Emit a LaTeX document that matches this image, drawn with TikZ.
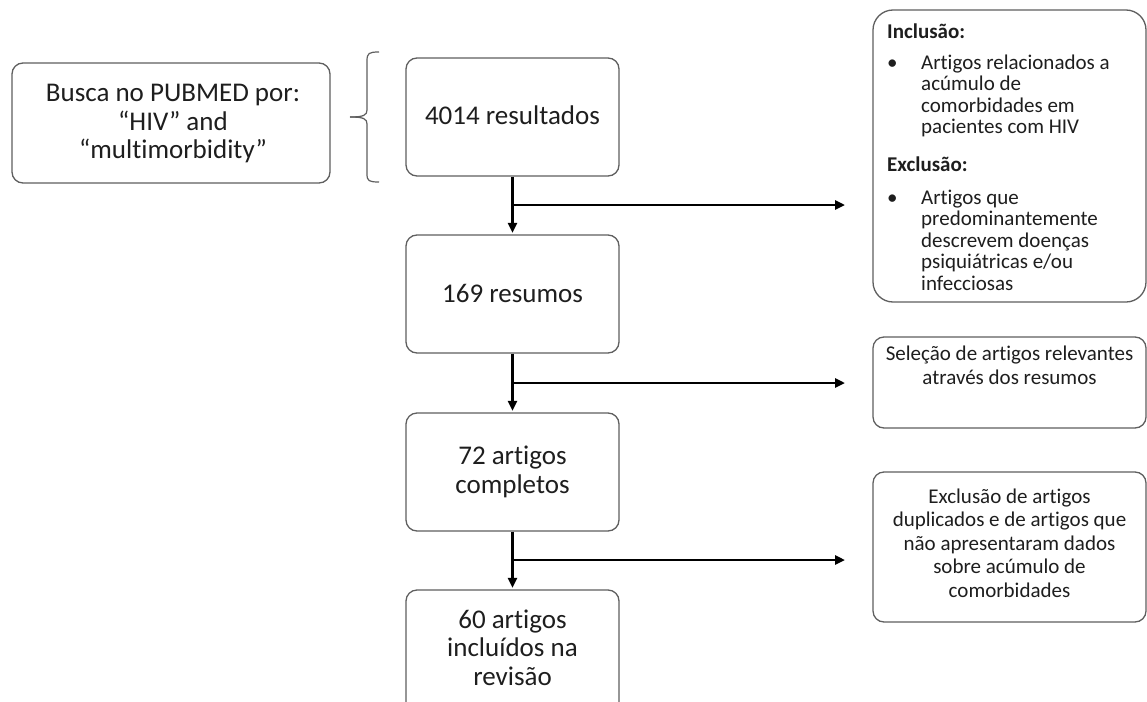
\documentclass[tikz,border=0pt]{standalone}
\usepackage{fontspec}
\setmainfont{Carlito}[Ligatures={NoCommon}]
\usetikzlibrary{arrows.meta}
\definecolor{boxgray}{RGB}{95,95,95}
\definecolor{textdark}{RGB}{30,30,30}
\begin{document}
\begin{tikzpicture}[x=1pt,y=-1pt,
  box/.style={draw=boxgray, line width=1.3pt, rounded corners=11pt, inner sep=0pt,
    text=textdark, rectangle},
  big/.style={font=\fontsize{27}{28.5}\selectfont, align=center, text=textdark, inner sep=0pt, anchor=base},
  small/.style={font=\fontsize{21}{23.5}\selectfont, align=center, text=textdark, inner sep=0pt, anchor=base},
  crit/.style={font=\fontsize{21}{21.5}\selectfont, align=left, text=textdark, inner sep=0pt, anchor=base west},
  crith/.style={crit, font=\fontsize{21}{21.5}\selectfont\bfseries},
  flow/.style={draw=black, line width=2.6pt, -{Triangle[length=10pt,width=9pt]}},
  brace/.style={draw=boxgray, line width=1.2pt},
]
\useasboundingbox (0,0) rectangle (1147,701);
\fill[white] (0,0) rectangle (1147,701);
\begin{scope}
\clip (0,0) rectangle (1147,701);

% left search box (base anchor = baseline of last line)
\node[box, minimum width=318pt, minimum height=120pt] (busca) at (171,123) {};
\node[big] (buscat) at (173,158.7) {Busca no PUBMED por:\\“HIV” and\\“multimorbidity”};

% brace
\coordinate (brtop) at (379,52);
\coordinate (brtip) at (350,117);
\coordinate (brbot) at (379,182);
\draw[brace] (brtop) .. controls (369,52) and (367,53) .. (367,61) -- (367,110)
  .. controls (367,115) and (364,117) .. (brtip);
\draw[brace] (brtip) .. controls (364,117) and (367,119) .. (367,124) -- (367,174)
  .. controls (367,181) and (369,182) .. (brbot);

% central flow boxes
\node[box, minimum width=213pt, minimum height=118pt] (res) at (512.5,117) {};
\node[big] (rest) at (512.5,124) {4014 resultados};
\node[box, minimum width=213pt, minimum height=118pt] (resu) at (512.5,294) {};
\node[big] (resut) at (512.5,302.5) {169 resumos};
\node[box, minimum width=213pt, minimum height=118pt] (comp) at (512.5,472) {};
\node[big] (compt) at (512.5,493.3) {72 artigos\\completos};
\node[box, minimum width=213pt, minimum height=130pt] (incl) at (512.5,655) {};
\node[big] (inclt) at (512.5,685) {60 artigos\\incluídos na\\revisão};

% right boxes
\node[box, rounded corners=20pt, minimum width=273pt, minimum height=292pt] (crit) at (1009.5,156) {};
\node[crith] (inch) at (887,39) {Inclusão:};
\node[crit] (incb) at (887,69.3) {•};
\node[crit] (inci) at (921,133.8) {Artigos relacionados a\\acúmulo de\\comorbidades em\\pacientes com HIV};
\node[crith] (exch) at (887,171) {Exclusão:};
\node[crit] (excb) at (887,204) {•};
\node[crit] (exci) at (921,290) {Artigos que\\predominantemente\\descrevem doenças\\psiquiátricas e/ou\\infecciosas};

\node[box, minimum width=273pt, minimum height=91pt] (sel) at (1009.5,382.5) {};
\node[small] (selt) at (1009.5,384) {Seleção de artigos relevantes\\através dos resumos};

\node[box, minimum width=273pt, minimum height=150pt] (exc) at (1009.5,547) {};
\node[small] (exct) at (1009.5,597) {Exclusão de artigos\\duplicados e de artigos que\\não apresentaram dados\\sobre acúmulo de\\comorbidades};

% connectors
\coordinate (j1) at (512.5,205);
\coordinate (a1) at (845,205);
\coordinate (j2) at (512.5,383);
\coordinate (a2) at (845,383);
\coordinate (j3) at (512.5,560);
\coordinate (a3) at (845,560);
\draw[flow, shorten >=1.5pt] (res.south) -- (resu.north);
\draw[flow, shorten >=1.5pt] (resu.south) -- (comp.north);
\draw[flow, shorten >=1.5pt] (comp.south) -- (incl.north);
\draw[flow] ([xshift=-1.3pt]j1) -- (a1);
\draw[flow] ([xshift=-1.3pt]j2) -- (a2);
\draw[flow] ([xshift=-1.3pt]j3) -- (a3);
\end{scope}
\end{tikzpicture}
\end{document}
